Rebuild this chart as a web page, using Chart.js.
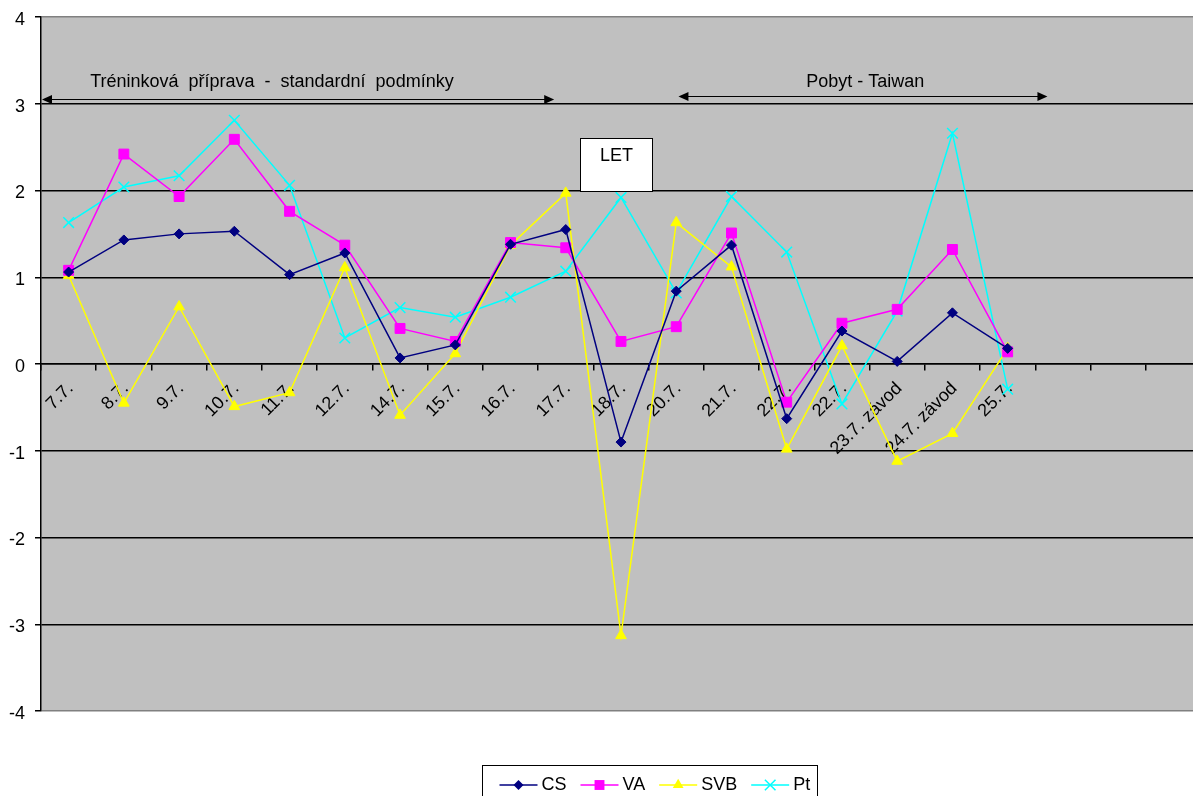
<!DOCTYPE html>
<html>
<head>
<meta charset="utf-8">
<script src="https://cdn.jsdelivr.net/npm/chart.js@4.4.1/dist/chart.umd.min.js"></script>
<style>
  html, body { margin: 0; padding: 0; overflow: hidden; background: #fff; }
  #wrap { width: 1210px; height: 796px; }
</style>
</head>
<body>
<div id="wrap"><canvas id="c" width="1210" height="796"></canvas></div>
<script>
// Training days (three trailing empty slots keep the axis running on to the right)
const categories = ['7.7.', '8.7.', '9.7.', '10.7.', '11.7.', '12.7.', '14.7.', '15.7.', '16.7.', '17.7.',
  '18.7.', '20.7.', '21.7.', '22.7.', '22.7.', '23.7. závod', '24.7. závod', '25.7.', '', '', ''];

const csValues  = [1.06, 1.43, 1.50, 1.53, 1.03, 1.28, 0.07, 0.22, 1.38, 1.55, -0.90, 0.84, 1.37, -0.63, 0.38, 0.03, 0.59, 0.18];
const vaValues  = [1.08, 2.42, 1.93, 2.59, 1.76, 1.37, 0.41, 0.26, 1.40, 1.34, 0.26, 0.43, 1.51, -0.44, 0.47, 0.63, 1.32, 0.14];
const svbValues = [1.02, -0.45, 0.66, -0.49, -0.33, 1.11, -0.59, 0.12, 1.37, 1.97, -3.13, 1.63, 1.12, -0.98, 0.21, -1.12, -0.80, 0.18];
const ptValues  = [1.63, 2.04, 2.17, 2.81, 2.06, 0.30, 0.65, 0.54, 0.77, 1.07, 1.92, 0.82, 1.93, 1.29, -0.46, 0.61, 2.66, -0.29];

const yTickValues = [-4, -3, -2, -1, 0, 1, 2, 3, 4];

const seriesNames = ['CS', 'VA', 'SVB', 'Pt'];

const FONT = 'Liberation Sans, Arial, sans-serif';

// Marker drawing shared by the legend
function drawMarker(ctx, style, x, y, r, color) {
  ctx.save();
  ctx.fillStyle = color;
  ctx.strokeStyle = color;
  ctx.lineWidth = 1.5;
  ctx.beginPath();
  if (style === 'rectRot') {
    ctx.moveTo(x, y - r); ctx.lineTo(x + r, y); ctx.lineTo(x, y + r); ctx.lineTo(x - r, y);
    ctx.closePath(); ctx.fill();
  } else if (style === 'rect') {
    const h = r * Math.SQRT1_2;
    ctx.rect(x - h, y - h, 2 * h, 2 * h); ctx.fill();
  } else if (style === 'triangle') {
    for (let i = 0; i < 3; i++) {
      const a = i * 2 * Math.PI / 3;
      const px = x + Math.sin(a) * r, py = y - Math.cos(a) * r;
      if (i === 0) ctx.moveTo(px, py); else ctx.lineTo(px, py);
    }
    ctx.closePath(); ctx.fill();
  } else if (style === 'crossRot') {
    const d = r * Math.SQRT1_2;
    ctx.moveTo(x - d, y - d); ctx.lineTo(x + d, y + d);
    ctx.moveTo(x + d, y - d); ctx.lineTo(x - d, y + d);
    ctx.stroke();
  }
  ctx.restore();
}

function arrowHead(ctx, x, y, dir) {
  ctx.beginPath();
  ctx.moveTo(x, y);
  ctx.lineTo(x - dir * 10, y - 4.5);
  ctx.lineTo(x - dir * 10, y + 4.5);
  ctx.closePath();
  ctx.fill();
}

function doubleArrow(ctx, x1, x2, y) {
  ctx.save();
  ctx.strokeStyle = '#000';
  ctx.fillStyle = '#000';
  ctx.lineWidth = 1;
  const yy = Math.round(y) + 0.5;
  ctx.beginPath();
  ctx.moveTo(x1 + 5, yy);
  ctx.lineTo(x2 - 5, yy);
  ctx.stroke();
  arrowHead(ctx, x1, yy, -1);
  arrowHead(ctx, x2, yy, 1);
  ctx.restore();
}

const plotBackground = {
  id: 'plotBackground',
  beforeDraw(chart) {
    const { ctx, chartArea: a } = chart;
    ctx.save();
    ctx.fillStyle = '#C0C0C0';
    ctx.fillRect(a.left, a.top, a.right - a.left, a.bottom - a.top);
    ctx.restore();
  }
};

// Period labels, arrows and the flight note
const periodNotes = {
  id: 'periodNotes',
  afterDatasetsDraw(chart) {
    const { ctx, chartArea: a } = chart;
    const xs = chart.scales.x, ys = chart.scales.y;
    ctx.save();
    ctx.font = '18px ' + FONT;
    ctx.fillStyle = '#000';
    ctx.textAlign = 'center';
    ctx.textBaseline = 'alphabetic';

    // training block
    doubleArrow(ctx, a.left + 1, xs.getPixelForValue(8.79), ys.getPixelForValue(3.06));
    ctx.fillText('Tréninková  příprava  -  standardní  podmínky', xs.getPixelForValue(3.68), ys.getPixelForValue(3.197));

    // stay in Taiwan
    doubleArrow(ctx, xs.getPixelForValue(11.04), xs.getPixelForValue(17.72), ys.getPixelForValue(3.09));
    ctx.fillText('Pobyt - Taiwan', xs.getPixelForValue(14.42), ys.getPixelForValue(3.197));

    // flight box
    const bx1 = Math.round(xs.getPixelForValue(9.25)) + 0.5;
    const bx2 = Math.round(xs.getPixelForValue(10.56)) + 0.5;
    const by1 = Math.round(ys.getPixelForValue(2.61)) + 0.5;
    const by2 = Math.round(ys.getPixelForValue(2.0)) + 0.5;
    ctx.fillStyle = '#fff';
    ctx.fillRect(bx1, by1, bx2 - bx1, by2 - by1);
    ctx.strokeStyle = '#000';
    ctx.lineWidth = 1;
    ctx.strokeRect(bx1, by1, bx2 - bx1, by2 - by1);
    ctx.fillStyle = '#000';
    ctx.fillText('LET', (bx1 + bx2) / 2, ys.getPixelForValue(2.335));
    ctx.restore();
  }
};

// Legend with line + marker samples
const lineLegend = {
  id: 'lineLegend',
  afterDraw(chart) {
    const { ctx } = chart;
    ctx.save();
    ctx.font = '18px ' + FONT;
    ctx.textBaseline = 'middle';
    ctx.textAlign = 'left';
    const left = 482.5, top = 765.5, cy = 785;
    let x = left + 17;
    chart.data.datasets.forEach((ds) => {
      ctx.strokeStyle = ds.borderColor;
      ctx.lineWidth = 1.5;
      ctx.beginPath();
      ctx.moveTo(x, cy); ctx.lineTo(x + 38, cy); ctx.stroke();
      drawMarker(ctx, ds.pointStyle, x + 19, cy, ds.pointRadius, ds.pointStyle === 'crossRot' ? ds.borderColor : ds.pointBackgroundColor);
      ctx.fillStyle = '#000';
      ctx.fillText(ds.label, x + 42, cy);
      x += 42 + ctx.measureText(ds.label).width + 14;
    });
    const right = Math.round(x - 14 + 7) + 0.5;
    ctx.strokeStyle = '#000';
    ctx.lineWidth = 1;
    ctx.strokeRect(left, top, right - left, 60);
    ctx.restore();
  }
};

function series(label, values, color, style, radius) {
  return {
    label,
    data: values,
    borderColor: color,
    backgroundColor: color,
    borderWidth: 1.5,
    pointStyle: style,
    pointRadius: radius,
    pointHoverRadius: radius,
    pointBackgroundColor: color,
    pointBorderColor: color,
    pointBorderWidth: style === 'crossRot' ? 1.5 : 1,
    tension: 0,
    fill: false
  };
}

new Chart(document.getElementById('c'), {
  type: 'line',
  data: {
    labels: categories,
    datasets: [
      series(seriesNames[0], csValues, '#000080', 'rectRot', 5),
      series(seriesNames[1], vaValues, '#FF00FF', 'rect', 7),
      series(seriesNames[2], svbValues, '#FFFF00', 'triangle', 6.2),
      series(seriesNames[3], ptValues, '#00FFFF', 'crossRot', 7.5)
    ]
  },
  options: {
    responsive: false,
    devicePixelRatio: 1,
    animation: false,
    events: [],
    layout: { padding: { left: 0, top: 17, right: 6, bottom: 85 } },
    plugins: { legend: { display: false }, tooltip: { enabled: false } },
    scales: {
      x: {
        type: 'category',
        position: { y: 0 },
        offset: true,
        grid: { offset: true, drawOnChartArea: false, drawTicks: true, tickLength: 6, tickColor: '#000', lineWidth: 1.5, color: '#000' },
        border: { display: true, color: '#000', width: 1.5 },
        ticks: { autoSkip: false, minRotation: 45, maxRotation: 45, color: '#000', padding: 8, labelOffset: 2,
                 font: { family: FONT, size: 18 } }
      },
      y: {
        min: -4, max: 4,
        afterBuildTicks(scale) { scale.ticks = yTickValues.map(v => ({ value: v })); },
        afterFit(scale) { scale.width = 41; scale.paddingTop = 0; scale.paddingBottom = 0; },
        grid: {
          color: c => (c.tick && Math.abs(c.tick.value) === 4) ? '#808080' : '#000',
          lineWidth: 1.5, tickColor: '#000', tickLength: 6, drawTicks: true
        },
        border: { display: true, color: '#000', width: 1.5 },
        ticks: { color: '#000', padding: 10, labelOffset: 3, font: { family: FONT, size: 18 } }
      }
    }
  },
  plugins: [plotBackground, periodNotes, lineLegend]
});
</script>
</body>
</html>
